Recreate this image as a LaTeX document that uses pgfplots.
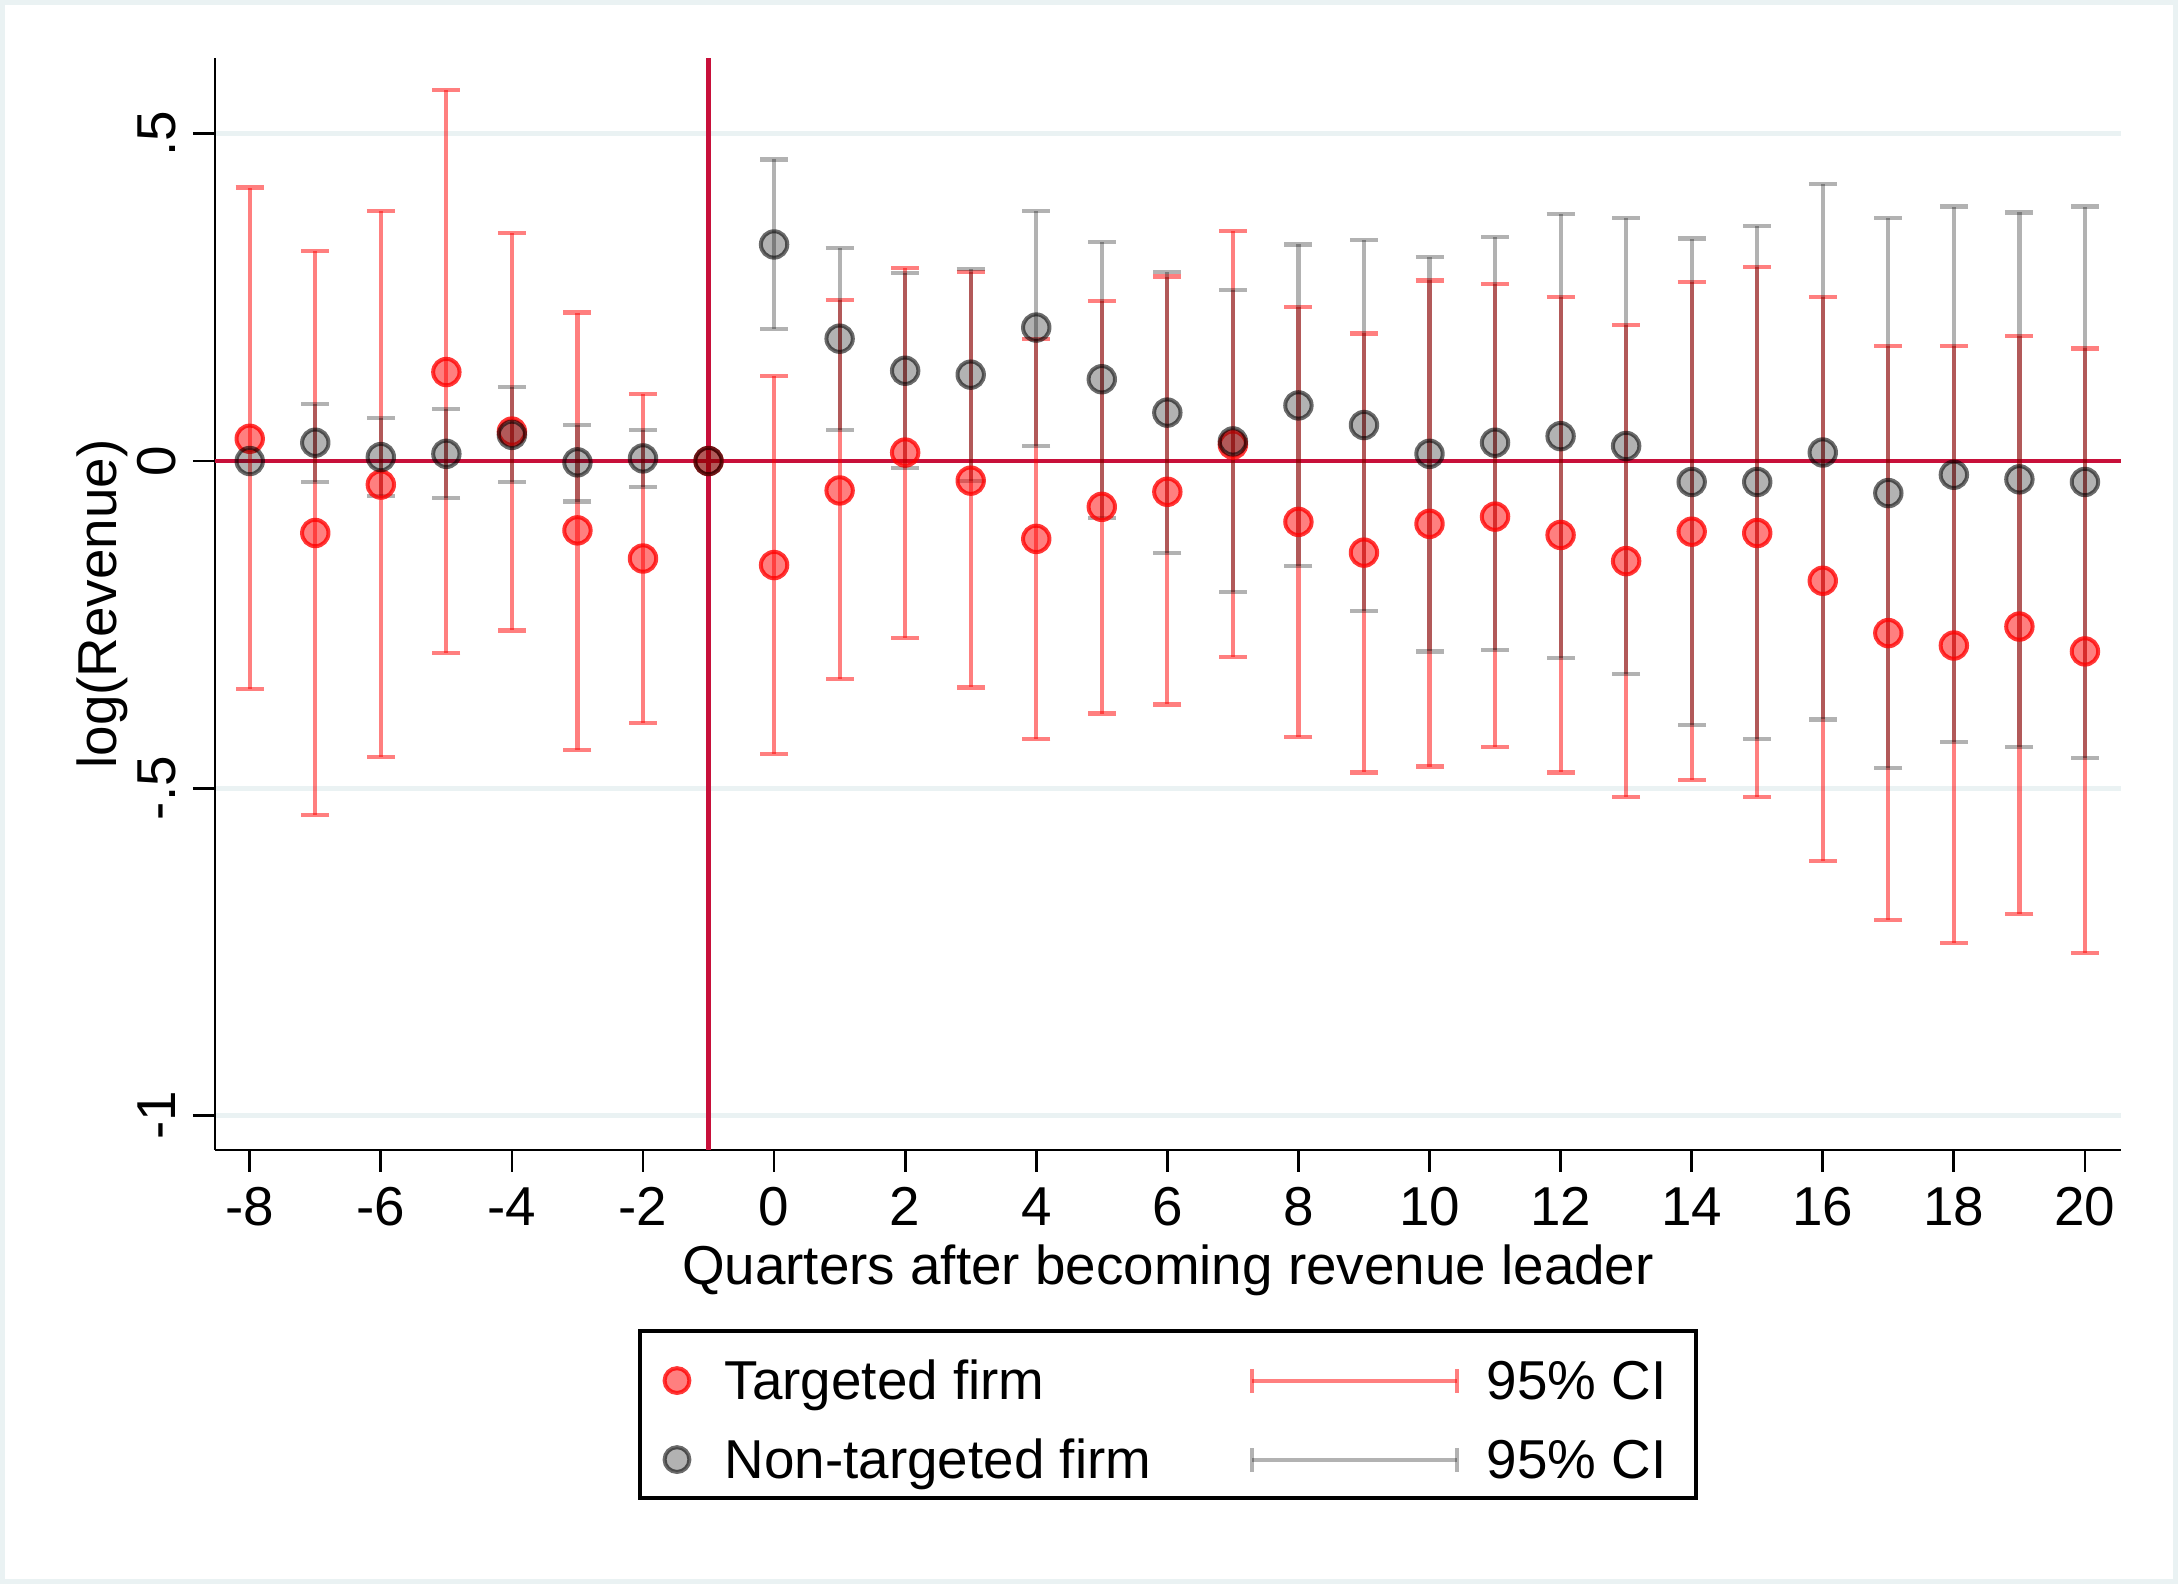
\documentclass[border=0pt]{standalone}
\usepackage{fontspec}
\setmainfont{Liberation Sans}
\usepackage{pgfplots}
\pgfplotsset{compat=1.18}
\usepackage{pgfplotstable}
\definecolor{cran}{RGB}{200,16,58}
\definecolor{gridc}{RGB}{234,242,243}

% Targeted firm: point estimates
\pgfplotstableread{
x y
-8 0.034
-7 -0.110
-6 -0.036
-5 0.136
-4 0.045
-3 -0.106
-2 -0.149
-1 0
0 -0.159
1 -0.045
2 0.013
3 -0.030
4 -0.119
5 -0.070
6 -0.047
7 0.025
8 -0.093
9 -0.140
10 -0.096
11 -0.085
12 -0.113
13 -0.153
14 -0.108
15 -0.110
16 -0.183
17 -0.263
18 -0.282
19 -0.253
20 -0.291
}\tpts

% Targeted firm: 95% CI
\pgfplotstableread{
x y lo hi
-8 0.034 -0.348 0.418
-7 -0.110 -0.541 0.321
-6 -0.036 -0.452 0.382
-5 0.136 -0.293 0.567
-4 0.045 -0.259 0.348
-3 -0.106 -0.442 0.227
-2 -0.149 -0.401 0.102
0 -0.159 -0.448 0.130
1 -0.045 -0.333 0.246
2 0.013 -0.270 0.295
3 -0.030 -0.346 0.289
4 -0.119 -0.425 0.187
5 -0.070 -0.386 0.244
6 -0.047 -0.372 0.282
7 0.025 -0.299 0.352
8 -0.093 -0.422 0.236
9 -0.140 -0.476 0.195
10 -0.096 -0.467 0.276
11 -0.085 -0.437 0.270
12 -0.113 -0.476 0.251
13 -0.153 -0.514 0.208
14 -0.108 -0.488 0.274
15 -0.110 -0.514 0.297
16 -0.183 -0.611 0.251
17 -0.263 -0.701 0.176
18 -0.282 -0.737 0.176
19 -0.253 -0.692 0.191
20 -0.291 -0.752 0.172
}\tci

% Non-targeted firm: point estimates
\pgfplotstableread{
x y
-8 0
-7 0.028
-6 0.006
-5 0.011
-4 0.040
-3 -0.002
-2 0.004
-1 0
0 0.331
1 0.187
2 0.138
3 0.132
4 0.204
5 0.125
6 0.074
7 0.030
8 0.085
9 0.055
10 0.011
11 0.028
12 0.038
13 0.023
14 -0.032
15 -0.032
16 0.013
17 -0.049
18 -0.021
19 -0.028
20 -0.032
}\npts

% Non-targeted firm: 95% CI
\pgfplotstableread{
x y lo hi
-7 0.028 -0.032 0.087
-6 0.006 -0.053 0.066
-5 0.011 -0.057 0.079
-4 0.040 -0.032 0.113
-3 -0.002 -0.062 0.055
-2 0.004 -0.040 0.047
0 0.331 0.202 0.461
1 0.187 0.047 0.325
2 0.138 -0.011 0.287
3 0.132 -0.030 0.293
4 0.204 0.023 0.382
5 0.125 -0.087 0.335
6 0.074 -0.140 0.289
7 0.030 -0.200 0.261
8 0.085 -0.161 0.331
9 0.055 -0.229 0.338
10 0.011 -0.291 0.312
11 0.028 -0.289 0.342
12 0.038 -0.301 0.378
13 0.023 -0.325 0.372
14 -0.032 -0.403 0.340
15 -0.032 -0.425 0.359
16 0.013 -0.395 0.423
17 -0.049 -0.469 0.372
18 -0.021 -0.429 0.389
19 -0.028 -0.437 0.380
20 -0.032 -0.454 0.389
}\nci

\pgfplotsset{
  tmark/.style={only marks, mark=*, mark options={fill=red, fill opacity=0.5, draw=red, draw opacity=0.78, line width=1pt}},
  nmark/.style={only marks, mark=*, mark options={fill=black, fill opacity=0.3, draw=black, draw opacity=0.58, line width=1pt}},
  legmark/.style={legend image code/.code={%
      \path (0pt,0pt) (20.25pt,0pt);
      \draw[##1, mark size=3.1pt] plot coordinates {(8.75pt,4.7pt)};}},
  legci/.style={legend image code/.code={%
      \path (0pt,0pt) (58.25pt,0pt);
      \draw[##1] (0pt,4.7pt) -- (51.25pt,4.7pt);
      \draw[##1] (0pt,1.7pt) -- (0pt,7.7pt);
      \draw[##1] (51.25pt,1.7pt) -- (51.25pt,7.7pt);}},
}

\begin{document}
\fontsize{13.7}{16}\selectfont
\begin{tikzpicture}
\path[use as bounding box] (-53.75pt,-108.5pt) rectangle (490.75pt,287.5pt);
\draw[gridc, line width=1.2pt] (-53.15pt,-107.9pt) rectangle (490.15pt,286.9pt);
\begin{axis}[
  width=476.5pt, height=273pt, scale only axis,
  xmin=-8.53, xmax=20.55, ymin=-1.053, ymax=0.616,
  axis x line*=bottom, axis y line*=left,
  axis line style={line width=0.7pt, -},
  xtick={-8,-6,...,20},
  ytick={-1,-0.5,0,0.5}, yticklabels={-1,-.5,0,.5},
  tick align=outside, major tick length=5.5pt,
  tick style={black, line width=0.7pt},
  ymajorgrids, major grid style={gridc, line width=1.2pt},
  /pgf/number format/assume math mode=true,
  xticklabel style={anchor=base, yshift=-13.5pt},
  yticklabel style={xshift=-4.4pt, rotate=90, anchor=base},
  every axis y label/.style={at={(rel axis cs:0,0.5)}, xshift=-24.6pt, rotate=90, anchor=base},
  every axis x label/.style={at={(rel axis cs:0.5,0)}, yshift=-33.75pt, anchor=base},
  xlabel={Quarters after becoming revenue leader},
  ylabel={log(Revenue)},
  legend columns=2,
  legend style={at={(0.5,-0.1639)}, anchor=north, draw=black, line width=0.9pt,
    inner xsep=0pt, inner ysep=2.875pt, row sep=3.4pt, column sep=0pt,
    nodes={inner sep=0pt, anchor=base west}},
]
\addplot[cran, line width=1.1pt, forget plot] coordinates {(-8.53,0) (20.55,0)};
\addplot[cran, line width=1.1pt, forget plot] coordinates {(-1,-1.053) (-1,0.616)};

\addplot[forget plot, draw=none, mark=none,
  error bars/.cd, y dir=both, y explicit, error mark=|,
  error bar style={draw=red, draw opacity=0.5, line width=1.05pt},
  error mark options={draw=red, draw opacity=0.5, line width=1.05pt, mark size=3.5pt}]
  table[x=x, y=y, y error plus expr=\thisrow{hi}-\thisrow{y}, y error minus expr=\thisrow{y}-\thisrow{lo}] {\tci};

\addplot[forget plot, draw=none, mark=none,
  error bars/.cd, y dir=both, y explicit, error mark=|,
  error bar style={draw=black, draw opacity=0.3, line width=1.05pt},
  error mark options={draw=black, draw opacity=0.3, line width=1.05pt, mark size=3.5pt}]
  table[x=x, y=y, y error plus expr=\thisrow{hi}-\thisrow{y}, y error minus expr=\thisrow{y}-\thisrow{lo}] {\nci};

\addplot[forget plot, tmark, mark size=3.3pt] table[x=x, y=y] {\tpts};
\addplot[forget plot, nmark, mark size=3.3pt] table[x=x, y=y] {\npts};

\addlegendimage{tmark, legmark}
\addlegendentry{\makebox[131.25pt][l]{Targeted firm\rule[-4.325pt]{0pt}{18.6pt}}}
\addlegendimage{legci, red, opacity=0.5, line width=1pt}
\addlegendentry{\makebox[52.25pt][l]{95\% CI\rule[-4.325pt]{0pt}{18.6pt}}}
\addlegendimage{nmark, legmark}
\addlegendentry{\makebox[131.25pt][l]{Non-targeted firm\rule[-7.9pt]{0pt}{22.2pt}}}
\addlegendimage{legci, black, opacity=0.3, line width=1pt}
\addlegendentry{\makebox[52.25pt][l]{95\% CI\rule[-7.9pt]{0pt}{22.2pt}}}
\end{axis}
\end{tikzpicture}
\end{document}
